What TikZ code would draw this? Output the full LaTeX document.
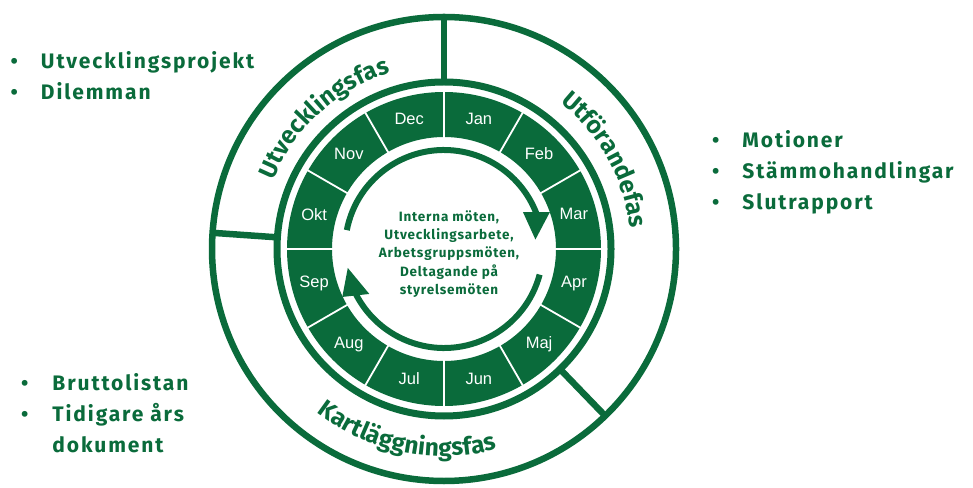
\documentclass[tikz,border=0pt]{standalone}
\usepackage{fontspec}
\setmainfont{Fira Sans}
\setsansfont{Fira Sans}
\newfontfamily\monthfont{Liberation Sans}
\usetikzlibrary{decorations.text}
\definecolor{vgreen}{RGB}{10,107,59}
\newcommand\phasefmt{\bfseries\fontsize{24.5}{28}\selectfont\color{vgreen}}
\begin{document}
\begin{tikzpicture}[x=1pt,y=1pt,
  ringline/.style={draw=vgreen, line width=6.5pt},
  sepline/.style={draw=white, line width=1.8pt},
  arrowarc/.style={draw=vgreen, line width=6pt},
  monthlabel/.style={text=white, inner sep=0pt, font=\monthfont\fontsize{16.5}{18}\selectfont},
  listtext/.style={text=vgreen, inner sep=0pt, align=left, font=\bfseries\fontsize{21}{31}\selectfont\addfontfeatures{LetterSpace=9}},
  centertext/.style={text=vgreen, inner sep=0pt, align=center, font=\bfseries\fontsize{13.5}{18.3}\selectfont\addfontfeatures{LetterSpace=6}},
  phasetext/.style={decorate, decoration={text along path, text align=center, text={|\phasefmt|#1}}}
]
\useasboundingbox (0,0) rectangle (973,487);
\coordinate (C) at (444,238);

% outer phase ring
\draw[ringline] (C) circle[radius=232];
\draw[ringline, line width=7pt] (C) circle[radius=167];
\draw[ringline] ([shift={(90:167)}]C) -- ([shift={(90:232)}]C);
\draw[ringline] ([shift={(176:167)}]C) -- ([shift={(176:232)}]C);
\draw[ringline] ([shift={(-46:167)}]C) -- ([shift={(-46:232)}]C);

% month ring
\fill[vgreen, even odd rule] (C) circle[radius=157] (C) circle[radius=112];
\foreach \a in {0,30,...,330}
  \draw[sepline] ([shift={(\a:111)}]C) -- ([shift={(\a:158)}]C);
\foreach \m/\a in {Jan/75,Feb/45,Mar/15,Apr/-15,Maj/-45,Jun/-75,Jul/-105,Aug/-135,Sep/-165,Okt/165,Nov/135,Dec/105}
  \node[monthlabel] (m\m) at ([shift={(\a:134.5)}]C) {\m};

% cycle arrows
\draw[arrowarc] ([shift={(169:99)}]C) arc[start angle=169, end angle=21, radius=99] coordinate (e1);
\fill[vgreen] ([shift={(-13.5,1.5)}]e1) -- ([shift={(13.5,1.5)}]e1) -- ([shift={(-1,-26)}]e1) -- cycle;
\draw[arrowarc] ([shift={(-15:99)}]C) arc[start angle=-15, end angle=-153, radius=99] coordinate (e2);
\fill[vgreen] ([shift={(-13.5,-3)}]e2) -- ([shift={(13.5,0)}]e2) -- ([shift={(-8,26)}]e2) -- cycle;

\node[centertext] (mid) at (449,233) {Interna möten,\\Utvecklingsarbete,\\Arbetsgruppsmöten,\\Deltagande på\\styrelsemöten};

% phase labels
\path[phasetext={Utvecklingsfas}] ([shift={(172:184)}]C) arc[start angle=172, end angle=93, radius=184];
\path[phasetext={Utförandefas}] ([shift={(68:187)}]C) arc[start angle=68, end angle=-10, radius=187];
\path[phasetext={Kartläggningsfas}] ([shift={(214:207)}]C) arc[start angle=214, end angle=303, radius=207];

% lists
\node[listtext, anchor=west] (l1) at (10.5,409) {\begin{tabular}{@{}l@{\hspace{23pt}}l@{}}•&Utvecklingsprojekt\\•&Dilemman\end{tabular}};
\node[listtext, anchor=west] (l2) at (712,315) {\begin{tabular}{@{}l@{\hspace{23pt}}l@{}}•&Motioner\\•&Stämmohandlingar\\•&Slutrapport\end{tabular}};
\node[listtext, anchor=west] (l3) at (21,72) {\begin{tabular}{@{}l@{\hspace{24pt}}l@{}}•&Bruttolistan\\•&Tidigare års\\&dokument\end{tabular}};
\end{tikzpicture}
\end{document}
